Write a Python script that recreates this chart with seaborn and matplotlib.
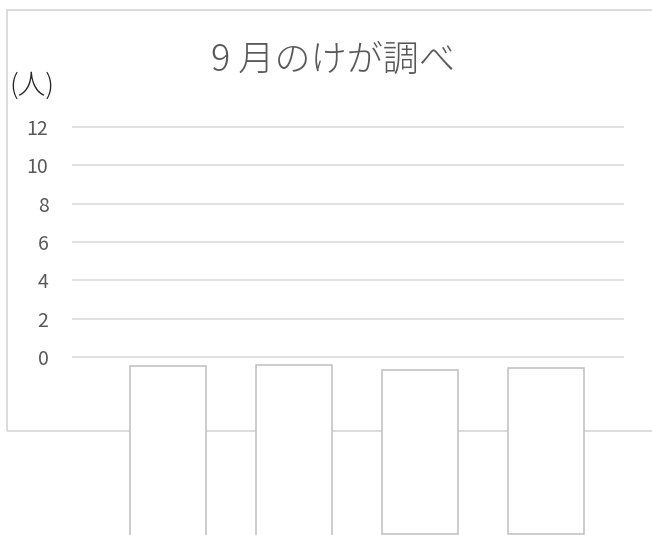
import pandas as pd
import seaborn as sns
import matplotlib.pyplot as plt
from matplotlib.patches import Rectangle

# Values (units of the y axis, 人)
# the four empty boxes hang below the 0 line and run off the bottom
groups = ["A", "B", "C", "D"]
box_top = [-0.45, -0.38, -0.64, -0.55]
box_bottom = [-9.3, -9.3, -9.2, -9.2]
y_ticks = [0, 2, 4, 6, 8, 10, 12]
title = "9 月のけが調べ"
unit_label = "(人)"

df = pd.DataFrame({"group": groups, "top": box_top, "bottom": box_bottom})
df["depth"] = df["bottom"] - df["top"]

sns.set_theme(style="white")
plt.rcParams['font.family'] = ['Noto Sans CJK JP', 'DejaVu Sans']

text_grey = "#595959"
line_grey = "#d9d9d9"

fig = plt.figure(figsize=(6.52, 5.35), dpi=100)
ax = fig.add_axes([72 / 652, (535 - 358) / 535, 552 / 652, 232 / 535])

sns.barplot(data=df, x="group", y="depth", bottom=df["top"].tolist(),
            errorbar=None, width=0.6, color="white", edgecolor="#bfbfbf",
            linewidth=1.1, clip_on=False, zorder=3, ax=ax)

# chart frame (open on the right side, like the reference)
frame = Rectangle((7 / 652, (535 - 431) / 535), 1.2, (431 - 10) / 535,
                  transform=fig.transFigure, fill=False, edgecolor=line_grey,
                  linewidth=1.3, clip_on=False, zorder=0.5)
ax.add_artist(frame)

ax.set_ylim(-0.03, 12.03)
ax.set_xlim(-0.764, 3.617)
ax.set_yticks(y_ticks)
ax.yaxis.grid(True, color=line_grey, linewidth=1.1)
ax.set_axisbelow(True)
ax.tick_params(axis="y", length=0, pad=17, labelsize=14, labelcolor=text_grey)
ax.set_xticks([])
ax.set_xlabel("")
ax.set_ylabel("")
sns.despine(ax=ax, left=True, bottom=True)

fig.text(333 / 652, 1 - 61 / 535, title, ha="center", va="center",
         fontsize=26, fontweight="light", color=text_grey)
fig.text(9 / 652, 1 - 86 / 535, unit_label, ha="left", va="center",
         fontsize=20, fontweight="light", color="#262626")

fig.savefig("out.png", dpi=100)
